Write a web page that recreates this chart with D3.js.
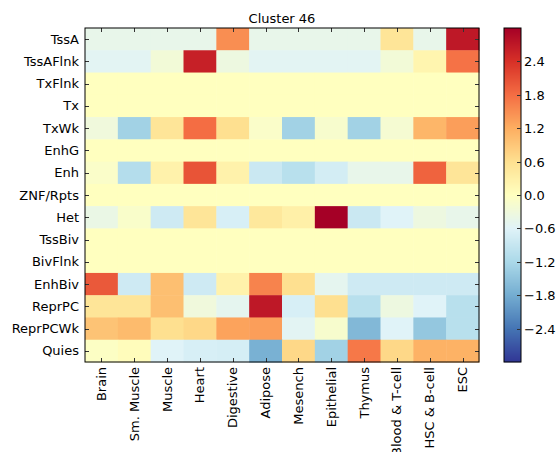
<!DOCTYPE html>
<html>
<head>
<meta charset="utf-8">
<script src="https://cdn.jsdelivr.net/npm/d3@7"></script>
<style>
  body { margin: 0; background: #fff; }
  text { font-family: "DejaVu Sans", sans-serif; fill: #000; }
</style>
</head>
<body>
<div id="chart"></div>
<script>
(function() {

  var title = "Cluster 46";

  // chromatin states (rows)
  var states = ["TssA", "TssAFlnk", "TxFlnk", "Tx", "TxWk", "EnhG", "Enh", "ZNF/Rpts",
                "Het", "TssBiv", "BivFlnk", "EnhBiv", "ReprPC", "ReprPCWk", "Quies"];

  // tissue groups (columns)
  var tissues = ["Brain", "Sm. Muscle", "Muscle", "Heart", "Digestive", "Adipose", "Mesench",
                 "Epithelial", "Thymus", "Blood & T-cell", "HSC & B-cell", "ESC"];

  // one array per state, values in tissue order
  var TssA     = [-0.45, -0.45, -0.45, -0.45, 1.5, -0.45, -0.45, -0.45, -0.45, 0.5, -0.45, 2.7];
  var TssAFlnk = [-0.55, -0.55, -0.25, 2.6, -0.35, -0.55, -0.55, -0.55, -0.55, -0.25, 0.2, 1.75];
  var TxFlnk   = [0, 0, 0, 0, 0, 0, 0, 0, 0, 0, 0, 0];
  var Tx       = [0, 0, 0, 0, 0, 0, 0, 0, 0, 0, 0, 0];
  var TxWk     = [-0.3, -1.3, 0.5, 1.8, 0.6, -0.1, -1.3, -0.15, -1.3, -0.2, 1.1, 1.35];
  var EnhG     = [0, 0, 0, 0, 0, 0, 0, 0, 0, 0, 0, 0];
  var Enh      = [-0.1, -1.1, 0.25, 2.05, 0.25, -0.85, -1.05, -0.75, -0.45, -0.45, 1.9, 0.5];
  var ZNF      = [0, 0, 0, 0, 0, 0, 0, 0, 0, 0, 0, 0];
  var Het      = [-0.4, -0.12, -0.8, 0.5, -0.7, 0.45, 0.3, 3.0, -0.85, -0.6, -0.35, -0.45];
  var TssBiv   = [0, 0, 0, 0, 0, 0, 0, 0, 0, 0, 0, 0];
  var BivFlnk  = [0, 0, 0, 0, 0, 0, 0, 0, 0, 0, 0, 0];
  var EnhBiv   = [2.0, -0.8, 1.0, -0.8, 0.25, 1.6, 0.6, -0.5, -0.8, -0.8, -0.8, -0.8];
  var ReprPC   = [0.5, 0.5, 1.0, -0.3, -0.5, 2.7, -0.7, 0.6, -1.05, -0.35, -0.6, -1.05];
  var ReprPCWk = [0.95, 1.05, 0.6, 0.7, 1.3, 1.35, -0.55, -0.15, -1.65, -0.6, -1.45, -1.05];
  var Quies    = [-0.05, 0.05, -0.6, -0.7, -0.72, -1.75, 0.7, -1.3, 1.7, 0.7, 1.15, 1.15];

  var rows = [TssA, TssAFlnk, TxFlnk, Tx, TxWk, EnhG, Enh, ZNF,
              Het, TssBiv, BivFlnk, EnhBiv, ReprPC, ReprPCWk, Quies];

  var cbTicks = [2.4, 1.8, 1.2, 0.6, 0.0, -0.6, -1.2, -1.8, -2.4];
  var vmin = -3, vmax = 3;

  // RdYlBu reversed, linear between the matplotlib anchor colours
  var cmapColors = ["#313695", "#4575b4", "#74add1", "#abd9e9", "#e0f3f8", "#ffffbf",
                    "#fee090", "#fdae61", "#f46d43", "#d73027", "#a50026"];
  var color = d3.scaleLinear()
      .domain(d3.range(cmapColors.length).map(function(i) { return vmin + i * (vmax - vmin) / (cmapColors.length - 1); }))
      .range(cmapColors)
      .interpolate(d3.interpolateRgb)
      .clamp(true);

  var W = 556, H = 452;
  var fontSize = "13px";
  var plot = { left: 85, top: 28, right: 479, bottom: 362 };
  var cb = { left: 504, right: 521, top: 28, bottom: 362 };

  var svg = d3.select("#chart").append("svg")
      .attr("width", W)
      .attr("height", H);

  var x = d3.scaleBand().domain(tissues).range([plot.left, plot.right]).padding(0);
  var y = d3.scaleBand().domain(states).range([plot.top, plot.bottom]).padding(0);

  // cells
  var cells = [];
  rows.forEach(function(r, i) {
    r.forEach(function(v, j) {
      cells.push({ state: states[i], tissue: tissues[j], value: v });
    });
  });

  svg.append("g").selectAll("rect")
    .data(cells)
    .enter().append("rect")
    .attr("x", function(d) { return x(d.tissue); })
    .attr("y", function(d) { return y(d.state); })
    .attr("width", x.bandwidth() + 0.5)
    .attr("height", y.bandwidth() + 0.5)
    .attr("fill", function(d) { return color(d.value); });

  // inward ticks on all four sides
  var tickLen = 4, tickColor = "#333";
  var tk = svg.append("g").attr("stroke", tickColor).attr("stroke-width", 1);
  tissues.forEach(function(t) {
    var cx = Math.round(x(t) + x.bandwidth() / 2) + 0.5;
    tk.append("line").attr("x1", cx).attr("x2", cx).attr("y1", plot.top).attr("y2", plot.top + tickLen);
    tk.append("line").attr("x1", cx).attr("x2", cx).attr("y1", plot.bottom).attr("y2", plot.bottom - tickLen);
  });
  states.forEach(function(s) {
    var cy = Math.round(y(s) + y.bandwidth() / 2) + 0.5;
    tk.append("line").attr("x1", plot.left).attr("x2", plot.left + tickLen).attr("y1", cy).attr("y2", cy);
    tk.append("line").attr("x1", plot.right).attr("x2", plot.right - tickLen).attr("y1", cy).attr("y2", cy);
  });

  // frame
  svg.append("rect")
    .attr("x", plot.left).attr("y", plot.top)
    .attr("width", plot.right - plot.left).attr("height", plot.bottom - plot.top)
    .attr("fill", "none").attr("stroke", "#000").attr("stroke-width", 1);

  // row labels
  svg.append("g").selectAll("text")
    .data(states)
    .enter().append("text")
    .attr("x", plot.left - 6)
    .attr("y", function(s) { return y(s) + y.bandwidth() / 2; })
    .attr("dy", "0.35em")
    .attr("text-anchor", "end")
    .style("font-size", fontSize)
    .text(function(s) { return s; });

  // column labels, rotated
  svg.append("g").selectAll("text")
    .data(tissues)
    .enter().append("text")
    .attr("transform", function(t) {
      return "translate(" + (x(t) + x.bandwidth() / 2) + "," + (plot.bottom + 5) + ") rotate(-90)";
    })
    .attr("dy", "0.35em")
    .attr("text-anchor", "end")
    .style("font-size", fontSize)
    .text(function(t) { return t; });

  // title
  svg.append("text")
    .attr("x", (plot.left + plot.right) / 2)
    .attr("y", plot.top - 5)
    .attr("text-anchor", "middle")
    .style("font-size", fontSize)
    .text(title);

  // colorbar
  var cy = d3.scaleLinear().domain([vmin, vmax]).range([cb.bottom, cb.top]);
  var steps = d3.range(0, cb.bottom - cb.top);
  svg.append("g").selectAll("rect")
    .data(steps)
    .enter().append("rect")
    .attr("x", cb.left)
    .attr("y", function(i) { return cb.top + i; })
    .attr("width", cb.right - cb.left)
    .attr("height", 1.2)
    .attr("fill", function(i) { return color(cy.invert(cb.top + i + 0.5)); });

  svg.append("rect")
    .attr("x", cb.left).attr("y", cb.top)
    .attr("width", cb.right - cb.left).attr("height", cb.bottom - cb.top)
    .attr("fill", "none").attr("stroke", "#000").attr("stroke-width", 1);

  var fmt = d3.format(".1f");
  var cbg = svg.append("g");
  cbTicks.forEach(function(v) {
    var ty = Math.round(cy(v)) + 0.5;
    cbg.append("line")
      .attr("x1", cb.right).attr("x2", cb.right - tickLen)
      .attr("y1", ty).attr("y2", ty)
      .attr("stroke", tickColor);
    cbg.append("text")
      .attr("x", cb.right + 3)
      .attr("y", ty)
      .attr("dy", "0.35em")
      .style("font-size", fontSize)
      .text(fmt(v).replace("-", "\u2212"));
  });

})();
</script>
</body>
</html>
